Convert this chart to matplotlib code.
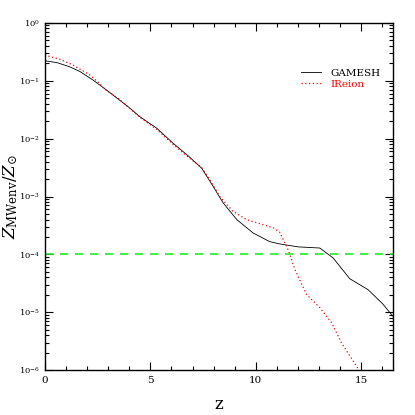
import matplotlib
matplotlib.use("Agg")
import matplotlib.pyplot as plt
from matplotlib.ticker import LogLocator, MultipleLocator

plt.rcParams['font.family'] = ['DejaVu Serif']
plt.rcParams['mathtext.fontset'] = 'dejavuserif'

# GAMESH (black solid)
z_gamesh = [0.0, 0.6, 1.18, 1.66, 2.29, 2.92, 3.95, 4.5, 5.3, 6.08, 6.8, 7.43, 7.9,
            8.45, 9.1, 9.87, 10.66, 11.14, 12.0, 13.03, 13.66, 14.45, 15.32, 16.0, 16.5]
logZ_gamesh = [-0.655, -0.69, -0.76, -0.84, -0.99, -1.16, -1.45, -1.62, -1.82, -2.08, -2.3, -2.51,
               -2.78, -3.11, -3.4, -3.63, -3.78, -3.82, -3.87, -3.89, -4.06, -4.42, -4.61, -4.85, -5.07]

# IReion (red dotted)
z_ireion = [0.0, 0.71, 1.34, 2.13, 2.6, 2.92, 3.5, 4.5, 5.3, 6.08, 6.8, 7.43, 7.8,
            8.29, 8.9, 9.56, 10.2, 10.82, 11.14, 11.53, 11.85, 12.4, 13.03, 13.59, 14.06, 14.5, 14.9]
logZ_ireion = [-0.557, -0.63, -0.73, -0.90, -1.05, -1.17, -1.31, -1.63, -1.84, -2.1, -2.32, -2.5,
               -2.7, -3.0, -3.25, -3.40, -3.47, -3.54, -3.62, -3.92, -4.26, -4.69, -4.92, -5.18,
               -5.53, -5.78, -6.0]

threshold = 1e-4

fig = plt.figure(figsize=(4.15, 4.15), dpi=100)
ax = fig.add_axes([0.108, 0.108, 0.839, 0.837])

ax.plot(z_gamesh, [10 ** v for v in logZ_gamesh], color='black', lw=0.6, label='GAMESH')
ax.plot(z_ireion, [10 ** v for v in logZ_ireion], color='red', lw=0.9, ls=(0, (1, 2)), label='IReion')
ax.axhline(threshold, color='#22ee22', lw=1.2, ls=(0, (5, 4)))

ax.set_yscale('log')
ax.set_xlim(0, 16.5)
ax.set_ylim(1e-6, 1)
ax.xaxis.set_major_locator(MultipleLocator(5))
ax.xaxis.set_minor_locator(MultipleLocator(1))
ax.yaxis.set_major_locator(LogLocator(base=10, numticks=10))
ax.yaxis.set_minor_locator(LogLocator(base=10, subs=range(2, 10), numticks=20))

ax.tick_params(which='both', direction='in', top=True, right=True, width=0.8)
ax.tick_params(which='major', length=6, labelsize=6)
ax.tick_params(which='minor', length=3)
ax.tick_params(axis='x', labelsize=7.5, pad=4)
for spine in ax.spines.values():
    spine.set_linewidth(1.0)

ax.set_xlabel('z', fontsize=12, va='center')
ax.xaxis.set_label_coords(0.5, -0.10)
ax.set_ylabel(r'$Z_{\rm MWenv}/Z_{\odot}$', fontsize=12, va='center')
ax.yaxis.set_label_coords(-0.097, 0.5)

leg = ax.legend(loc='upper left', bbox_to_anchor=(0.71, 0.895), frameon=False, fontsize=7.5,
                handlelength=1.9, handletextpad=0.9, labelspacing=0.15)
leg.get_texts()[1].set_color('red')

plt.savefig('out.png', dpi=100)
